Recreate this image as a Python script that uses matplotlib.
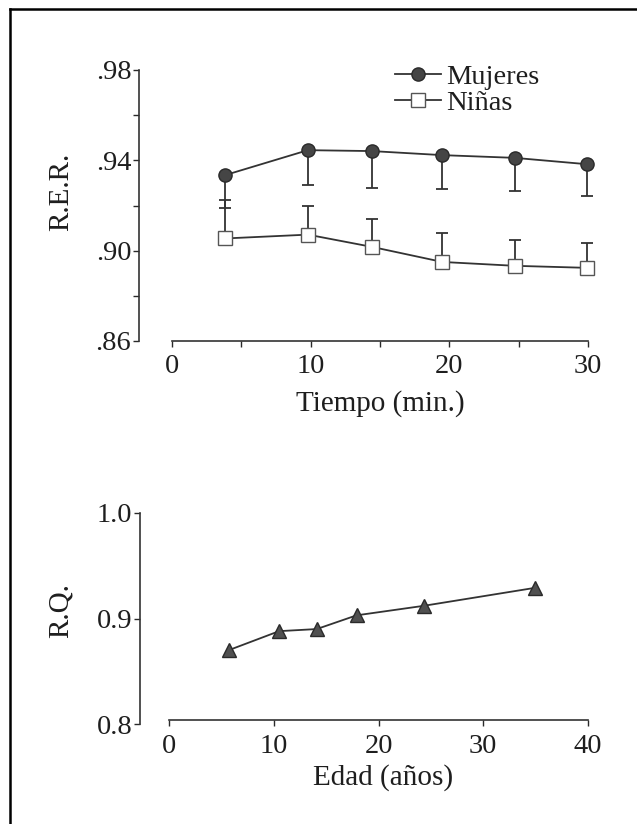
import matplotlib
matplotlib.use("Agg")
import matplotlib.pyplot as plt
from matplotlib.lines import Line2D
from matplotlib.ticker import MultipleLocator

plt.rcParams['font.family'] = ['Liberation Serif', 'DejaVu Serif']
plt.rcParams['text.color'] = '#1e1e1e'
plt.rcParams['xtick.color'] = '#2a2a2a'
plt.rcParams['ytick.color'] = '#2a2a2a'
plt.rcParams['xtick.labelcolor'] = '#1e1e1e'
plt.rcParams['ytick.labelcolor'] = '#1e1e1e'

# top panel: R.E.R. vs time
tiempo = [3.8, 9.8, 14.4, 19.5, 24.7, 29.9]
mujeres = [0.9334, 0.9445, 0.9441, 0.9423, 0.9411, 0.9383]
mujeres_low = [0.9191, 0.9290, 0.9278, 0.9271, 0.9264, 0.9240]
ninas = [0.9054, 0.9071, 0.9017, 0.8950, 0.8933, 0.8924]
ninas_high = [0.9224, 0.9199, 0.9142, 0.9080, 0.9046, 0.9032]

# bottom panel: R.Q. vs age
edad = [5.7, 10.5, 14.1, 17.9, 24.3, 34.9]
rq = [0.870, 0.888, 0.890, 0.903, 0.912, 0.929]

W, H = 637, 824
fig = plt.figure(figsize=(W / 100, H / 100), dpi=100)

axis_col = '#333333'
line_col = '#333333'
fs = 20.5


def style(ax, xb, yb):
    for s in ['top', 'right']:
        ax.spines[s].set_visible(False)
    for s in ['left', 'bottom']:
        ax.spines[s].set_color(axis_col)
        ax.spines[s].set_linewidth(1.2)
    ax.spines['bottom'].set_bounds(*xb)
    ax.spines['left'].set_bounds(*yb)
    ax.tick_params(which='both', direction='out', length=4.5, width=1.0,
                   labelsize=fs)
    ax.tick_params(axis='y', pad=1)
    ax.tick_params(axis='x', pad=5)


# ---- top chart
ax1 = fig.add_axes([139 / W, 1 - 341 / H, (588 - 139) / W, 271 / H])
ax1.set_xlim(-2.38, 30)
ax1.set_ylim(0.86, 0.98)
style(ax1, (0, 30), (0.86, 0.98))
ax1.set_xticks([0, 10, 20, 30])
ax1.xaxis.set_minor_locator(MultipleLocator(5))
ax1.set_yticks([0.86, 0.90, 0.94, 0.98])
ax1.set_yticklabels(['.86', '.90', '.94', '.98'])
ax1.yaxis.set_minor_locator(MultipleLocator(0.02))

m_err = [[m - lo for m, lo in zip(mujeres, mujeres_low)], [0] * len(mujeres)]
n_err = [[0] * len(ninas), [hi - n for n, hi in zip(ninas, ninas_high)]]
ax1.errorbar(tiempo, mujeres, yerr=m_err, fmt='none', ecolor=line_col,
             elinewidth=1.3, capsize=4.5, capthick=1.3, clip_on=False, zorder=2)
ax1.errorbar(tiempo, ninas, yerr=n_err, fmt='none', ecolor=line_col,
             elinewidth=1.3, capsize=4.5, capthick=1.3, clip_on=False, zorder=2)
ax1.plot(tiempo, mujeres, '-', color=line_col, lw=1.3, marker='o', ms=9.5,
         mfc='#454545', mec='#2a2a2a', mew=1.0, label='Mujeres',
         clip_on=False, zorder=3)
ax1.plot(tiempo, ninas, '-', color=line_col, lw=1.3, marker='s', ms=10,
         mfc='white', mec='#555555', mew=1.0, label='Niñas',
         clip_on=False, zorder=3)
ax1.legend(loc='upper left', bbox_to_anchor=(395 / W, 1 - 64 / H),
           bbox_transform=fig.transFigure, frameon=False, fontsize=fs,
           handlelength=1.6, handletextpad=0.2, labelspacing=0.02,
           borderpad=0, borderaxespad=0)

fig.text(380 / W, 1 - 404 / H, 'Tiempo (min.)', ha='center', va='center',
         fontsize=21)
fig.text(61 / W, 1 - 192 / H, 'R.E.R.', ha='center', va='center',
         rotation=90, fontsize=21)

# ---- bottom chart
ax2 = fig.add_axes([140 / W, 1 - 724 / H, (588 - 140) / W, 211 / H])
ax2.set_xlim(-2.78, 40)
ax2.set_ylim(0.8, 1.0)
style(ax2, (0, 40), (0.8, 1.0))
ax2.spines['bottom'].set_position(('data', 0.8035))
ax2.set_xticks([0, 10, 20, 30, 40])
ax2.set_yticks([0.8, 0.9, 1.0])
ax2.set_yticklabels(['0.8', '0.9', '1.0'])
ax2.plot(edad, rq, '-', color=line_col, lw=1.3, marker='^', ms=10.5,
         mfc='#505050', mec='#2a2a2a', mew=1.0, clip_on=False, zorder=3)

fig.text(383 / W, 1 - 778 / H, 'Edad (años)', ha='center', va='center',
         fontsize=21)
fig.text(61 / W, 1 - 611 / H, 'R.Q.', ha='center', va='center',
         rotation=90, fontsize=21)

# page frame (left and top edges only)
fig.add_artist(Line2D([10 / W, 10 / W], [0, 1 - 9 / H], color='black',
                      lw=1.8, transform=fig.transFigure))
fig.add_artist(Line2D([10 / W, 1], [1 - 9 / H, 1 - 9 / H], color='black',
                      lw=1.8, transform=fig.transFigure))

fig.savefig('out.png', dpi=100)
